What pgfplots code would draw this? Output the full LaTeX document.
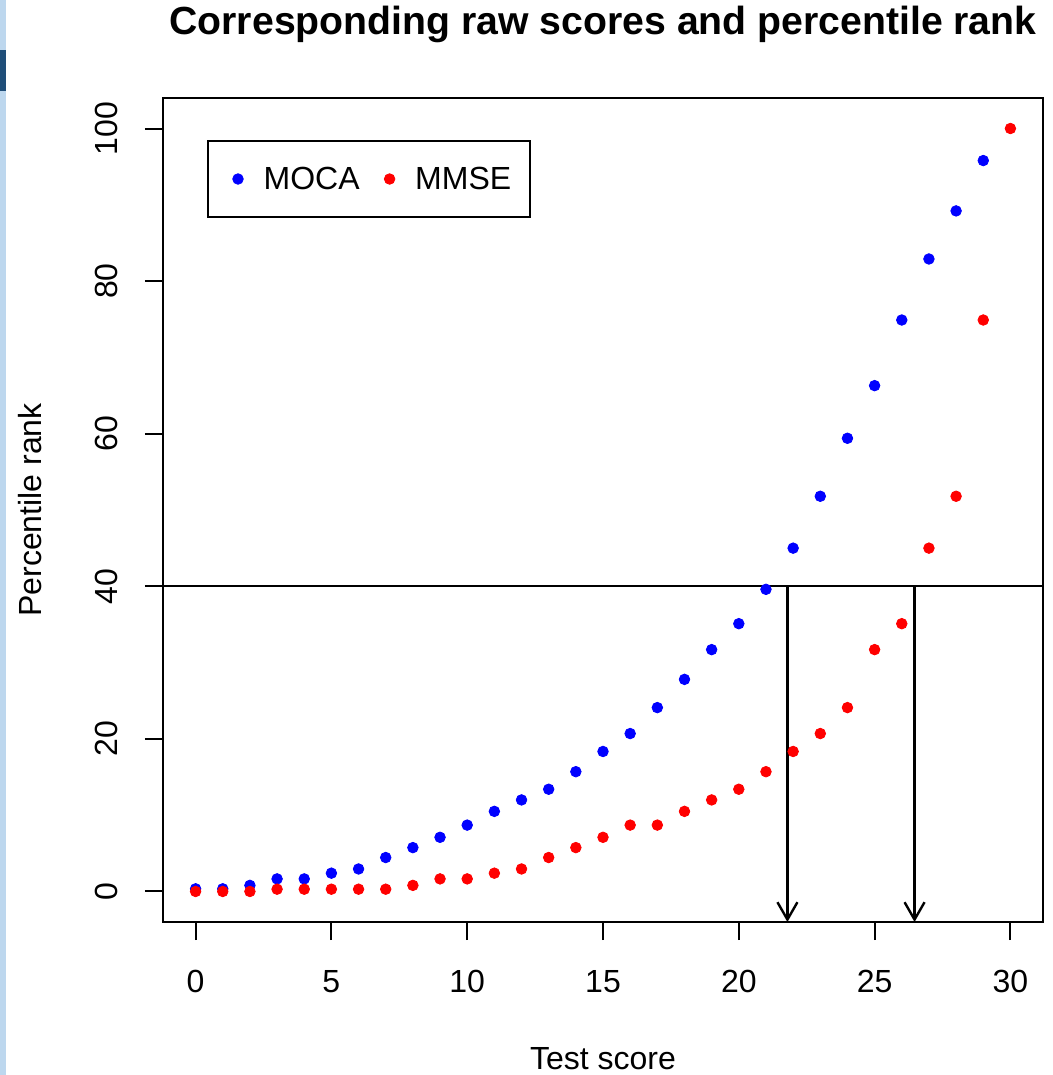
\documentclass[border=0pt]{standalone}
\usepackage{fontspec}
\setmainfont{Liberation Sans}
\usepackage{pgfplots}
\usepackage{pgfplotstable}
\pgfplotsset{compat=1.18}
\usetikzlibrary{arrows.meta}

\definecolor{stripblue}{RGB}{189,215,238}
\definecolor{stripdark}{RGB}{31,78,121}

% percentile rank for each raw score
\pgfplotstableread{
score rank
0  0.35
1  0.35
2  0.8
3  1.65
4  1.65
5  2.4
6  2.95
7  4.45
8  5.75
9  7.1
10 8.7
11 10.5
12 12.0
13 13.4
14 15.7
15 18.35
16 20.7
17 24.1
18 27.8
19 31.7
20 35.1
21 39.6
22 45.0
23 51.8
24 59.4
25 66.3
26 74.9
27 82.9
28 89.2
29 95.8
}\moca

\pgfplotstableread{
score rank
0  0
1  0
2  0
3  0.3
4  0.3
5  0.3
6  0.3
7  0.3
8  0.8
9  1.65
10 1.65
11 2.4
12 2.95
13 4.45
14 5.75
15 7.1
16 8.7
17 8.7
18 10.5
19 12.0
20 13.4
21 15.7
22 18.35
23 20.7
24 24.1
25 31.7
26 35.1
27 45.0
28 51.8
29 74.9
30 100
}\mmse

\begin{document}
\fontsize{16}{19}\selectfont
\begin{tikzpicture}
\useasboundingbox (-81.5pt,-76.5pt) rectangle (445pt,461pt);
\fill[stripblue] (-81.5pt,-76.5pt) rectangle (-78.5pt,461pt);
\fill[stripdark] (-81.5pt,415.5pt) rectangle (-78.5pt,436pt);
\begin{axis}[
  at={(0,0)}, anchor=south west,
  scale only axis, width=440pt, height=412pt,
  xmin=-1.2, xmax=31.2, ymin=-4, ymax=104,
  xtick={0,5,...,30}, ytick={0,20,...,100},
  tick align=outside, xtick pos=left, ytick pos=left,
  major tick length=9pt,
  axis line style={line width=1pt},
  every tick/.style={black, line width=1pt},
  /pgf/number format/assume math mode=true,
  tick label style={font=\fontsize{16}{19}\selectfont},
  xticklabel style={yshift=-26pt, anchor=base},
  yticklabel style={xshift=-13.5pt, rotate=90, anchor=base},
  title={Corresponding raw scores and percentile rank},
  every axis title shift=0pt,
  title style={at={(axis description cs:0.5,1.0765)}, anchor=base,
    font=\bfseries\fontsize{19.6}{23}\selectfont},
  xlabel={Test score},
  xlabel style={at={(axis description cs:0.5,-0.1796)}, anchor=base,
    font=\fontsize{16}{19}\selectfont},
  ylabel={Percentile rank},
  ylabel style={at={(axis description cs:-0.1375,0.5)}, anchor=base,
    font=\fontsize{16}{19}\selectfont},
  clip=false,
  legend columns=2,
  legend image code/.code={%
    \path[draw=none, fill=none] (0pt,0pt) -- (14pt,0pt);
    \draw[#1, only marks] plot coordinates {(7pt,0pt)};},
  legend style={at={(axis description cs:0.05,0.949)}, anchor=north west,
    draw=black, line width=1pt, inner xsep=8pt, inner ysep=9.25pt,
    font=\fontsize{16}{19}\selectfont,
    nodes={inner xsep=1.2pt, inner ysep=3pt, text height=12pt, text depth=1.5pt},
    /tikz/every odd column/.append style={column sep=4.6pt},
    /tikz/every even column/.append style={column sep=6.8pt}},
  legend cell align=left,
]
\addplot[blue, only marks, mark=*, mark size=2.65pt, mark options={line width=0.4pt}]
  table[x=score, y=rank] {\moca};
\addlegendentry{MOCA}
\addplot[red, only marks, mark=*, mark size=2.65pt, mark options={line width=0.4pt}]
  table[x=score, y=rank] {\mmse};
\addlegendentry{MMSE}

% cut-off at the 40th percentile and the matching raw scores
\addplot[black, line width=1pt, forget plot] coordinates {(-1.2,40) (31.2,40)};
\addplot[black, line width=1.2pt, forget plot, -{Straight Barb[length=8.7pt, width=10pt]}]
  coordinates {(21.79,40) (21.79,-4)};
\addplot[black, line width=1.2pt, forget plot, -{Straight Barb[length=8.7pt, width=10pt]}]
  coordinates {(26.47,40) (26.47,-4)};
\end{axis}
\end{tikzpicture}
\end{document}
